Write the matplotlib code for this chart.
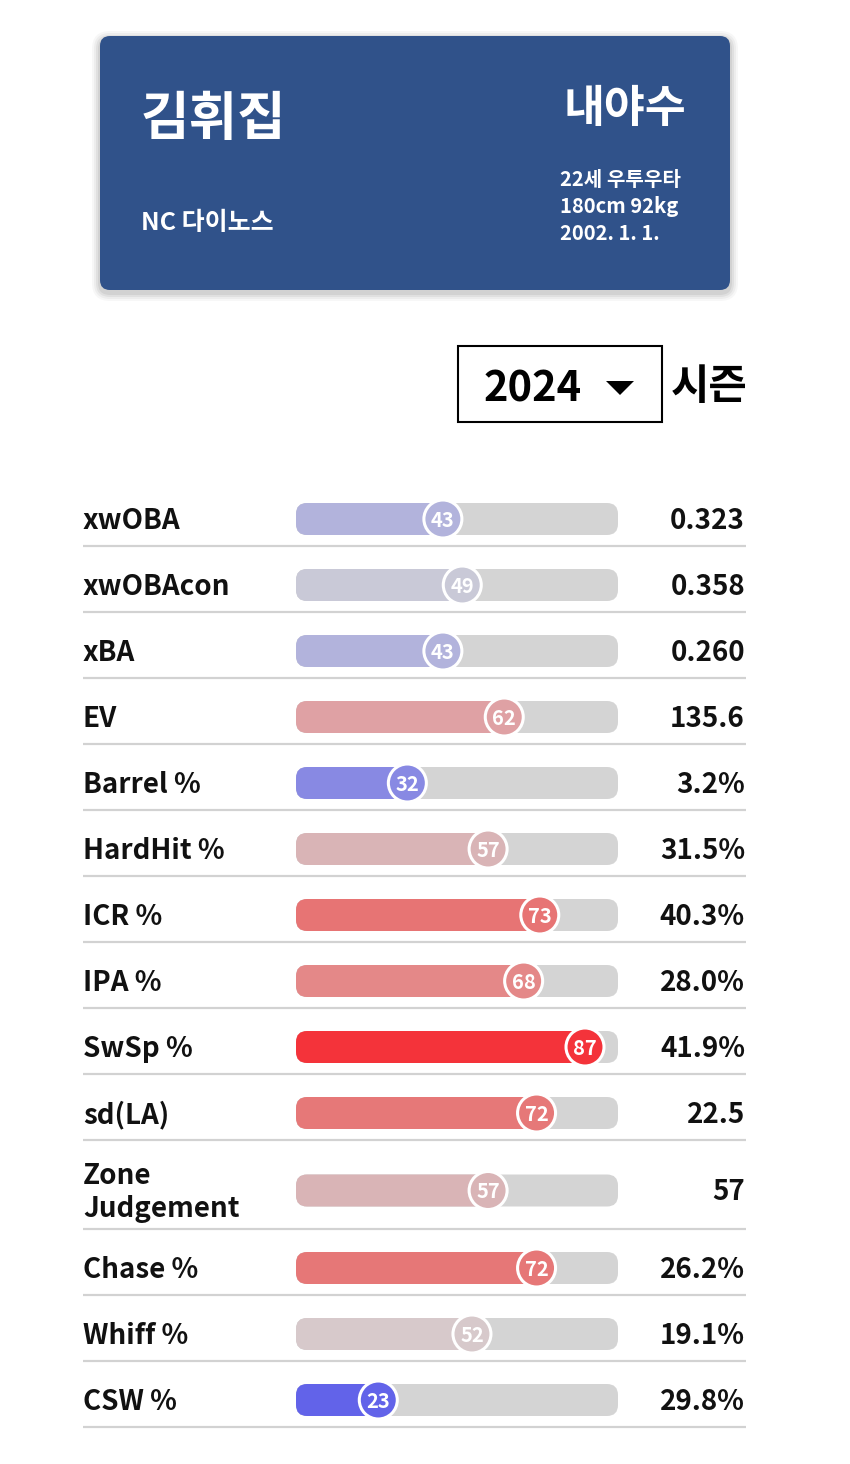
import matplotlib
matplotlib.use("Agg")
import matplotlib.pyplot as plt
from matplotlib.patches import FancyBboxPatch, Circle, Rectangle, Polygon

plt.rcParams['font.family'] = ['Noto Sans CJK KR', 'DejaVu Sans']

# player card
player_name = "김휘집"
team = "NC 다이노스"
position = "내야수"
bio_lines = ["22세 우투우타", "180cm 92kg", "2002. 1. 1."]
season = "2024"

# metrics
labels = ["xwOBA", "xwOBAcon", "xBA", "EV", "Barrel %", "HardHit %", "ICR %",
          "IPA %", "SwSp %", "sd(LA)", "Zone\nJudgement", "Chase %", "Whiff %", "CSW %"]
percentiles = [43, 49, 43, 62, 32, 57, 73, 68, 87, 72, 57, 72, 52, 23]
values = ["0.323", "0.358", "0.260", "135.6", "3.2%", "31.5%", "40.3%",
          "28.0%", "41.9%", "22.5", "57", "26.2%", "19.1%", "29.8%"]
colors = ["#b2b3dc", "#c9c9d7", "#b2b3dc", "#dfa1a4", "#8889e3", "#d9b4b6", "#e77474",
          "#e48888", "#f4333a", "#e67878", "#d9b4b6", "#e67777", "#d7c9cb", "#6263e9"]

fig = plt.figure(figsize=(8.5, 14.64), dpi=100)
ax = fig.add_axes([0, 0, 1, 1])
ax.set_xlim(0, 850)
ax.set_ylim(1464, 0)
ax.axis('off')

# card shadow + card
for i, a in enumerate([0.03, 0.04, 0.05, 0.06]):
    pad = 8 - 2 * i
    ax.add_patch(FancyBboxPatch((100 - pad, 36 - pad + 3), 630 + 2 * pad, 254 + 2 * pad,
                                boxstyle="round,pad=0,rounding_size=%d" % (10 + pad),
                                fc='black', ec='none', alpha=a, zorder=1))
ax.add_patch(FancyBboxPatch((100, 36), 630, 254, boxstyle="round,pad=0,rounding_size=10",
                            fc='#30528a', ec='none', zorder=2))
ax.text(141, 119, player_name, color='white', fontsize=38, fontweight='bold',
        va='center', ha='left', zorder=3)
ax.text(141, 223, team, color='white', fontsize=18, fontweight='bold',
        va='center', ha='left', zorder=3)
ax.text(686, 109, position, color='white', fontsize=32, fontweight='bold',
        va='center', ha='right', zorder=3)
for k, line in enumerate(bio_lines):
    ax.text(560, 179 + 27.5 * k, line, color='white', fontsize=14.5, fontweight='bold',
            va='center', ha='left', zorder=3)

# season selector
ax.add_patch(Rectangle((458, 346), 204, 76, fc='white', ec='black', lw=1.5, zorder=2))
ax.text(533, 389, season, fontsize=30, fontweight='bold', va='center', ha='center', zorder=3)
ax.add_patch(Polygon([[606, 381], [634, 381], [620, 395]], closed=True, fc='black', zorder=3))
ax.text(709, 387, "시즌", fontsize=30, fontweight='bold', va='center', ha='center', zorder=3)

# rows
track_x0, track_x1 = 296, 618
bar_h = 32
radius = 19


def pct_to_x(p):
    return 304 + 3.23 * p


top = 480
for lab, p, val, col in zip(labels, percentiles, values, colors):
    h = 89 if "\n" in lab else 66
    yc = top + h / 2 + 6
    ax.text(83, yc + 2, lab, fontsize=20, fontweight='bold', va='center', ha='left',
            linespacing=1.25, color='#111111')
    ax.text(745, yc + 2, val, fontsize=20, fontweight='bold', va='center', ha='right',
            color='#111111')
    ax.add_patch(FancyBboxPatch((track_x0, yc - bar_h / 2), track_x1 - track_x0, bar_h,
                                boxstyle="round,pad=0,rounding_size=11",
                                fc='#d4d4d4', ec='none', zorder=2))
    cx = pct_to_x(p)
    ax.add_patch(FancyBboxPatch((track_x0, yc - bar_h / 2), cx - track_x0, bar_h,
                                boxstyle="round,pad=0,rounding_size=11",
                                fc=col, ec='none', zorder=3))
    ax.add_patch(Circle((cx, yc), radius, fc=col, ec='white', lw=2.2, zorder=4))
    ax.text(cx, yc + 1.5, str(p), color='white', fontsize=14.5, fontweight='bold',
            va='center', ha='center', zorder=5)
    sep = top + h
    ax.plot([83, 746], [sep, sep], color='#d2d2d2', lw=1.6, zorder=1,
            solid_capstyle='butt')
    top = sep

fig.savefig("out.png", dpi=100, facecolor='white')
